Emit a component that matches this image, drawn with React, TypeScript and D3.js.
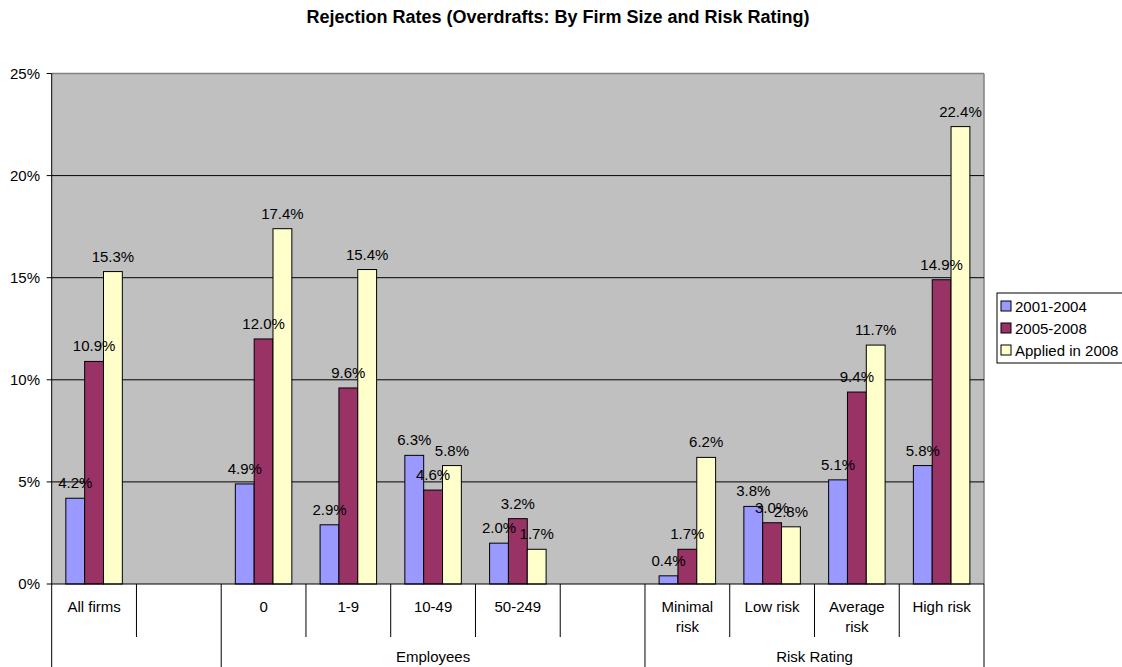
import React from 'react';
import * as d3 from 'd3';

const categories = ['All firms', '', '0', '1-9', '10-49', '50-249', '', 'Minimal\nrisk', 'Low risk', 'Average\nrisk', 'High risk'];
const groups = [
  { label: '', from: 0, to: 1 },
  { label: 'Employees', from: 2, to: 6 },
  { label: 'Risk Rating', from: 7, to: 10 },
];
const seriesNames = ['2001-2004', '2005-2008', 'Applied in 2008'];
const seriesColors = ['#9999FF', '#993366', '#FFFFCC'];
const s2001 = [4.2, null, 4.9, 2.9, 6.3, 2.0, null, 0.4, 3.8, 5.1, 5.8];
const s2005 = [10.9, null, 12.0, 9.6, 4.6, 3.2, null, 1.7, 3.0, 9.4, 14.9];
const sApplied = [15.3, null, 17.4, 15.4, 5.8, 1.7, null, 6.2, 2.8, 11.7, 22.4];
const yTicks = [0, 5, 10, 15, 20, 25];

const W = 1122;
const H = 667;
const FONT = 'Arial, "Liberation Sans", Helvetica, sans-serif';

export default function App() {
  const left = 51.7;
  const right = 984;
  const top = 73.5;
  const bottom = 584;

  const x = d3.scaleBand<number>().domain(d3.range(categories.length)).range([left, right]).paddingInner(0).paddingOuter(0);
  const bw = x.bandwidth();
  const xs = d3.scaleBand<number>().domain([0, 1, 2]).range([bw / 6, (bw * 5) / 6]);
  const y = d3.scaleLinear().domain([0, 25]).range([bottom, top]);
  const series = [s2001, s2005, sApplied];

  // separators: group boundaries run to the bottom, the rest stop short
  const groupEdges = new Set<number>();
  groups.forEach((g) => { groupEdges.add(g.from); groupEdges.add(g.to + 1); });

  return (
    <svg width={W} height={H} style={{ position: 'fixed', left: 0, top: 0, display: 'block', background: '#fff' }} fontFamily={FONT}>
      <text x={558} y={23} textAnchor="middle" fontSize={18} fontWeight="bold" fill="#000">
        Rejection Rates (Overdrafts: By Firm Size and Risk Rating)
      </text>

      {/* plot area */}
      <rect x={left} y={top} width={right - left} height={bottom - top} fill="#C0C0C0" />
      <line x1={left} x2={right} y1={top} y2={top} stroke="#808080" strokeWidth={1.5} />
      <line x1={right} x2={right} y1={top} y2={bottom} stroke="#808080" strokeWidth={1.5} />
      {yTicks.slice(1, -1).map((t) => (
        <line key={t} x1={left} x2={right} y1={y(t)} y2={y(t)} stroke="#000" strokeWidth={1} />
      ))}

      {/* y axis */}
      <line x1={left} x2={left} y1={top} y2={bottom} stroke="#000" />
      {yTicks.map((t) => (
        <g key={t}>
          <line x1={left - 5} x2={left} y1={y(t)} y2={y(t)} stroke="#000" />
          <text x={40} y={y(t) + 5} textAnchor="end" fontSize={15} fill="#000">{t}%</text>
        </g>
      ))}

      {/* bars */}
      {series.map((vals, si) => vals.map((v, ci) => v == null ? null : (
        <rect key={`${si}-${ci}`} x={(x(ci) ?? 0) + (xs(si) ?? 0)} y={y(v)} width={xs.bandwidth()} height={y(0) - y(v)}
          fill={seriesColors[si]} stroke="#000" strokeWidth={1} />
      )))}
      {series.map((vals, si) => vals.map((v, ci) => v == null ? null : (
        <text key={`l${si}-${ci}`} x={(x(ci) ?? 0) + (xs(si) ?? 0) + xs.bandwidth() / 2} y={y(v) - 10}
          textAnchor="middle" fontSize={15} fill="#000">{v.toFixed(1)}%</text>
      )))}

      {/* category axis */}
      <line x1={left} x2={right} y1={bottom} y2={bottom} stroke="#000" />
      {d3.range(categories.length + 1).map((i) => {
        const xx = i < categories.length ? (x(i) ?? 0) : right;
        return <line key={i} x1={xx} x2={xx} y1={bottom} y2={groupEdges.has(i) ? H : 637} stroke="#000" />;
      })}
      {categories.map((c, i) => (
        <text key={i} x={(x(i) ?? 0) + bw / 2} y={612} textAnchor="middle" fontSize={15} fill="#000">
          {c.split('\n').map((ln, k) => (
            <tspan key={k} x={(x(i) ?? 0) + bw / 2} dy={k === 0 ? 0 : 20}>{ln}</tspan>
          ))}
        </text>
      ))}
      {groups.map((g) => (
        <text key={g.label + g.from} x={((x(g.from) ?? 0) + (x(g.to) ?? 0) + bw) / 2} y={662} textAnchor="middle" fontSize={15} fill="#000">{g.label}</text>
      ))}

      {/* legend */}
      <rect x={997} y={293} width={140} height={70} fill="#fff" stroke="#000" />
      {seriesNames.map((n, i) => (
        <g key={n}>
          <rect x={1001} y={301 + i * 22} width={10} height={10} fill={seriesColors[i]} stroke="#000" />
          <text x={1015} y={312 + i * 22} fontSize={15} fill="#000">{n}</text>
        </g>
      ))}
    </svg>
  );
}
